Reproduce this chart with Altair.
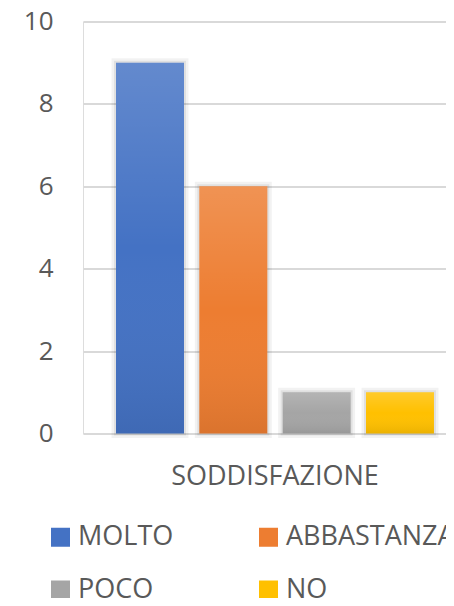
import altair as alt
import pandas as pd

# data
series = ["MOLTO", "ABBASTANZA", "POCO", "NO"]
values = [9, 6, 1, 1]
group = ["SODDISFAZIONE"] * 4
colors = ["#4472C4", "#ED7D31", "#A5A5A5", "#FFC000"]
y_ticks = [0, 2, 4, 6, 8, 10]

df = pd.DataFrame({"group": group, "series": series, "value": values})

FONT = "Open Sans"
TXT = "#595959"

x_enc = alt.X(
    "group:N",
    title=None,
    scale=alt.Scale(paddingInner=0, paddingOuter=0.0708, align=0.733),
    axis=alt.Axis(labelFontSize=27, labelFont=FONT, labelColor=TXT, ticks=False,
                  domain=False, labelPadding=30, labelAngle=0, labelLimit=500),
)
xo_enc = alt.XOffset("series:N", sort=series,
                     scale=alt.Scale(paddingInner=0.184, paddingOuter=0))
y_enc = alt.Y(
    "value:Q",
    title=None,
    scale=alt.Scale(domain=[0, 10], nice=False),
    axis=alt.Axis(values=y_ticks, labelFontSize=26, labelFont=FONT, labelColor=TXT,
                  labelAlign="right", labelBaseline="middle",
                  ticks=False, domain=False, labelPadding=30,
                  gridColor="#D9D9D9", gridWidth=2),
)

base = alt.Chart(df).encode(x=x_enc, xOffset=xo_enc, y=y_enc)

shadow_wide = base.mark_bar(fillOpacity=0, stroke="#000000", strokeOpacity=0.05,
                            strokeWidth=9)
shadow_near = base.mark_bar(fillOpacity=0, stroke="#000000", strokeOpacity=0.07,
                            strokeWidth=4)

bars = base.mark_bar(cornerRadius=0).encode(
    color=alt.Color(
        "series:N", sort=series, title=None,
        scale=alt.Scale(domain=series, range=colors),
        legend=alt.Legend(
            orient="none", legendX=-36, legendY=502, columns=2, direction="horizontal",
            symbolType="square", symbolSize=361, symbolStrokeWidth=0,
            labelFontSize=27, labelFont=FONT, labelColor=TXT, labelOffset=4,
            columnPadding=81, rowPadding=25, labelLimit=400,
        ),
    )
)

shine = base.mark_bar(
    color=alt.Gradient(
        gradient="linear", x1=0, x2=0, y1=0, y2=1,
        stops=[
            alt.GradientStop(color="rgba(255,255,255,0.17)", offset=0),
            alt.GradientStop(color="rgba(255,255,255,0.0)", offset=0.5),
            alt.GradientStop(color="rgba(0,0,0,0.08)", offset=1),
        ],
    )
)

chart = (
    alt.layer(shadow_wide, shadow_near, bars, shine)
    .properties(
        width=363, height=412,
        autosize=alt.AutoSizeParams(type="none"),
        padding={"left": 75, "top": 13.5, "right": 0, "bottom": 164},
    )
    .configure_view(stroke=None)
    .configure(background="white")
)

chart.save("out.html", embed_options={"renderer": "svg", "actions": False})
